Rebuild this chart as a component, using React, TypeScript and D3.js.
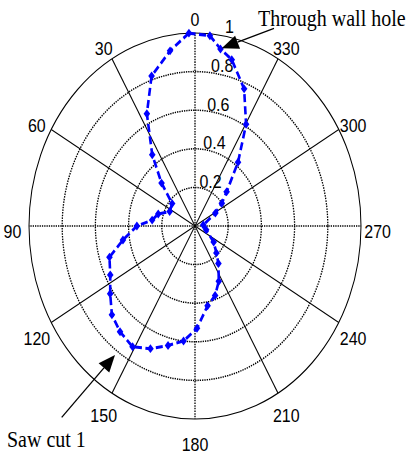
import React from 'react';
import * as d3 from 'd3';

// polar pattern (angle in degrees, counter-clockwise from top)
const thetaDeg = [2.1, 9.4, 18.6, 26.5, 34.9, 42.2, 49.9, 63.8, 74.3, 83.2, 90, 99.5, 107.4, 116.4, 124.5, 132.6, 140.5, 149.0, 157.1, 165.3, 173.4, 181.3, 190.4, 198.6, 206.6, 216, 222.7, 233.5, 253.6, 275.7, 298.6, 306.1, 312.9, 321.9, 329.7, 337.4, 345.6, 350.5, 354.8];
const radius = [1.0, 0.92, 0.82, 0.65, 0.45, 0.3, 0.18, 0.17, 0.23, 0.26, 0.35, 0.44, 0.54, 0.57, 0.62, 0.68, 0.71, 0.73, 0.69, 0.64, 0.6, 0.53, 0.42, 0.38, 0.32, 0.24, 0.19, 0.14, 0.07, 0.05, 0.14, 0.2, 0.26, 0.42, 0.61, 0.77, 0.89, 0.93, 0.99];

const angleTicks = [0, 30, 60, 90, 120, 150, 180, 210, 240, 270, 300, 330];
const rTicks = [0.2, 0.4, 0.6, 0.8, 1];
const rTickLabels = ['0.2', '0.4', '0.6', '0.8', '1'];

const W = 414;
const H = 454;
const k = 193 / 166; // figure is stretched vertically
const R = 166;
const cx = 195;
const cy = 226 / k;

const rScale = d3.scaleLinear().domain([0, 1]).range([0, R]);
const rad = (deg: number) => (deg * Math.PI) / 180;
const px = (deg: number, r: number) => cx - rScale(r) * Math.sin(rad(deg));
const py = (deg: number, r: number) => cy - rScale(r) * Math.cos(rad(deg));

const arrow = (x1: number, y1: number, x2: number, y2: number) => {
    const a = Math.atan2(y2 - y1, x2 - x1);
    const len = 17, hw = 7;
    const bx = x2 - len * Math.cos(a), by = y2 - len * Math.sin(a);
    const pts = [
        [x2, y2],
        [bx + hw * Math.sin(a), by - hw * Math.cos(a)],
        [bx - hw * Math.sin(a), by + hw * Math.cos(a)],
    ];
    return (
        <g>
            <line x1={x1} y1={y1} x2={bx} y2={by} stroke="black" strokeWidth={1.3} />
            <polygon points={pts.map(p => p.join(',')).join(' ')} fill="black" />
        </g>
    );
};

const App = () => {
    const points = thetaDeg.map((t, i) => ({ t, r: radius[i] }));

    const line = d3.lineRadial<{ t: number; r: number }>()
        .angle(d => -rad(d.t))
        .radius(d => rScale(d.r))
        .curve(d3.curveLinearClosed);

    const diamond = 'M0,-3.8L3.3,0L0,3.8L-3.3,0Z';

    return (
        <svg width={W} height={H} style={{ position: 'absolute', left: 0, top: 0, background: 'white' }}>
            <g transform={`scale(1,${k})`}>
                {/* rings */}
                {rTicks.map((r, i) => (
                    <circle key={'c' + i} cx={cx} cy={cy} r={rScale(r)} fill="none" stroke="black"
                        strokeWidth={r === 1 ? 1 : 1.3}
                        strokeDasharray={r === 1 ? undefined : '1.3,1'} />
                ))}
                {/* spokes */}
                {angleTicks.map(a => (
                    <line key={'s' + a} x1={cx} y1={cy} x2={px(a, 1)} y2={py(a, 1)} stroke="black"
                        strokeWidth={a % 90 === 0 ? 1.3 : 1}
                        strokeDasharray={a % 90 === 0 ? '1.3,1' : undefined} />
                ))}
                {/* angle labels */}
                {angleTicks.map(a => (
                    <text key={'a' + a} x={px(a, 1.1)} y={py(a, 1.1) + 6 / k} textAnchor="middle"
                        dominantBaseline="central" fontFamily="Liberation Sans, Arial, sans-serif" fontSize={16}>
                        {a}
                    </text>
                ))}
                {/* radial labels */}
                {rTicks.map((r, i) => (
                    <text key={'r' + i} x={cx + 0.5 + 19.5 * r + (rTickLabels[i].length < 3 ? 10 : 0)}
                        y={cy - rScale(r) - 6 / k} dominantBaseline="central"
                        fontFamily="Liberation Sans, Arial, sans-serif" fontSize={16}>
                        {rTickLabels[i]}
                    </text>
                ))}
                {/* data */}
                <g transform={`translate(${cx},${cy})`}>
                    <path d={line(points) || ''} fill="none" stroke="#0000ff" strokeWidth={2.6}
                        strokeDasharray="7,3.5" />
                    {points.map((d, i) => (
                        <path key={'m' + i} d={diamond} fill="#0000ff"
                            transform={`translate(${px(d.t, d.r) - cx},${py(d.t, d.r) - cy})`} />
                    ))}
                </g>
                {/* annotations */}
                <text x={258} y={26 / k} fontFamily="Liberation Serif, Times New Roman, serif" fontSize={20}>
                    Through wall hole
                </text>
                <text x={7} y={447 / k} fontFamily="Liberation Serif, Times New Roman, serif" fontSize={20}>
                    Saw cut 1
                </text>
            </g>
            {arrow(274, 28.3, 221.7, 48.3)}
            {arrow(61.7, 417.3, 115, 355)}
        </svg>
    );
};

export default App;
